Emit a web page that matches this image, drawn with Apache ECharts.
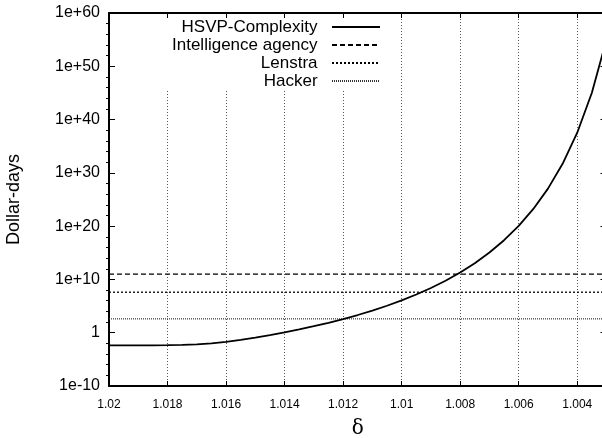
<!DOCTYPE html>
<html>
<head>
<meta charset="utf-8">
<script src="https://cdn.jsdelivr.net/npm/echarts@6/dist/echarts.min.js"></script>
<style>html,body{margin:0;padding:0;background:#fff;}#chart{width:602px;height:438px;}</style>
</head>
<body>
<div id="chart"></div>
<script>
// Data
const deltaValues = [1.0200, 1.0195, 1.0190, 1.0185, 1.0180, 1.0175, 1.0170, 1.0165, 1.0160, 1.0155,
                     1.0150, 1.0145, 1.0140, 1.0135, 1.0130, 1.0125, 1.0120, 1.0115, 1.0110, 1.0105,
                     1.0100, 1.0095, 1.0090, 1.0085, 1.0080, 1.0075, 1.0070, 1.0065, 1.0060, 1.0055,
                     1.0050, 1.0045, 1.0040, 1.0035, 1.0030];
const hsvpValues = [4.04e-3, 4.07e-3, 4.13e-3, 4.27e-3, 4.55e-3, 5.18e-3, 6.65e-3, 1.03e-2, 1.97e-2, 4.55e-2,
                    0.121, 0.360, 1.17, 4.19, 16.6, 73.3, 366, 2.10e3, 1.42e4, 1.15e5,
                    1.15e6, 1.46e7, 2.45e8, 5.77e9, 2.01e11, 1.13e13, 1.12e15, 2.27e17, 1.11e20, 1.68e23,
                    1.10e27, 5.09e31, 3.46e37, 1.09e45, 1.09e55];
const xRange = [1.020, 1.003];
const intelligenceAgency = 1e11;
const lenstra = 4e7;
const hacker = 400;
const seriesNames = ['HSVP-Complexity', 'Intelligence agency', 'Lenstra', 'Hacker'];
const yTickLabels = ['1e-10', '1', '1e+10', '1e+20', '1e+30', '1e+40', '1e+50', '1e+60'];
const yExponentRange = [-10, 60];
const yAxisName = 'Dollar-days';
const xAxisName = 'δ';

const chart = echarts.init(document.getElementById('chart'), null, {renderer: 'canvas'});
const font = 'Liberation Sans, Arial, sans-serif';

function yLabel(v) {
  const e = Math.round(Math.log10(v));
  const idx = Math.round((e - yExponentRange[0]) / 10);
  return yTickLabels[idx] !== undefined ? yTickLabels[idx] : '';
}

const hsvpData = deltaValues.map((d, i) => [d, hsvpValues[i]]);
const flat = v => xRange.map(d => [d, v]);
const hiddenSymbol = {color: 'rgba(0,0,0,0)', borderColor: 'rgba(0,0,0,0)', borderWidth: 0, opacity: 0};

const option = {
  animation: false,
  backgroundColor: '#fff',
  grid: {left: 109, top: 13, width: 497.5, height: 373, containLabel: false, outerBoundsMode: 'none'},
  legend: {
    orient: 'vertical',
    align: 'right',
    right: 216,
    top: 18,
    padding: [0, 5, 0, 12],
    itemGap: 0,
    itemWidth: 48,
    itemHeight: 14,
    backgroundColor: '#fff',
    selectedMode: false,
    itemStyle: hiddenSymbol,
    data: seriesNames,
    formatter: n => n + '  ',
    textStyle: {fontFamily: font, fontSize: 17, color: '#000', lineHeight: 18}
  },
  xAxis: [{
    type: 'value', inverse: true, min: xRange[1], max: xRange[0], splitNumber: 8, position: 'bottom',
    axisLine: {onZero: false, lineStyle: {color: '#000', width: 2}},
    axisTick: {inside: true, length: 5, lineStyle: {color: '#000', width: 1}},
    axisLabel: {showMinLabel: false, color: '#000', fontSize: 12, fontFamily: font, margin: 13},
    splitLine: {show: true, lineStyle: {type: [1, 2], color: '#555', width: 1}},
    name: xAxisName, nameLocation: 'middle', nameGap: 33,
    nameTextStyle: {fontFamily: 'DejaVu Serif, Liberation Serif, serif', fontSize: 20, color: '#000'}
  }, {
    type: 'value', inverse: true, min: xRange[1], max: xRange[0], splitNumber: 8, position: 'top',
    axisLine: {onZero: false, lineStyle: {color: '#000', width: 2}},
    axisTick: {inside: true, length: 5, lineStyle: {color: '#000', width: 1}},
    axisLabel: {show: false},
    splitLine: {show: false}
  }],
  yAxis: [{
    type: 'log', logBase: 10, min: 1e-10, max: 1e60, splitNumber: 7, position: 'left',
    axisLine: {onZero: false, lineStyle: {color: '#000', width: 2}},
    axisTick: {inside: true, length: 6, lineStyle: {color: '#000', width: 1}},
    minorTick: {show: false},
    axisLabel: {formatter: yLabel, color: '#000', fontSize: 16, fontFamily: font, margin: 9},
    splitLine: {show: false},
    name: yAxisName, nameLocation: 'middle', nameRotate: 90, nameGap: 86,
    nameTextStyle: {fontFamily: font, fontSize: 18, color: '#000'}
  }, {
    type: 'log', logBase: 10, min: 1e-10, max: 1e60, splitNumber: 7, position: 'right',
    axisLine: {onZero: false, lineStyle: {color: '#000', width: 2}},
    axisTick: {inside: true, length: 6, lineStyle: {color: '#000', width: 1}},
    minorTick: {show: false},
    axisLabel: {show: false},
    splitLine: {show: false}
  }, {
    // exponent axis used only for the minor tick marks of the log scale
    type: 'value', min: yExponentRange[0], max: yExponentRange[1], interval: 10, position: 'left', offset: 0,
    axisLine: {show: false},
    axisTick: {show: false},
    minorTick: {show: true, splitNumber: 5, length: 3, lineStyle: {color: '#000', width: 1}},
    axisLabel: {show: false},
    splitLine: {show: false}
  }],
  series: [{
    name: seriesNames[0], type: 'line', data: hsvpData, symbol: 'none', smooth: false,
    lineStyle: {color: '#000', width: 1.8, type: 'solid'}, itemStyle: {color: '#000'}, z: 5
  }, {
    name: seriesNames[1], type: 'line', data: flat(intelligenceAgency), symbol: 'none',
    lineStyle: {color: '#000', width: 1.3, type: [5, 3]}, itemStyle: {color: '#000'}
  }, {
    name: seriesNames[2], type: 'line', data: flat(lenstra), symbol: 'none',
    lineStyle: {color: '#000', width: 1.3, type: [2, 2]}, itemStyle: {color: '#000'}
  }, {
    name: seriesNames[3], type: 'line', data: flat(hacker), symbol: 'none',
    lineStyle: {color: '#333', width: 1.2, type: [1, 1]}, itemStyle: {color: '#333'}
  }]
};
chart.setOption(option);
</script>
</body>
</html>
